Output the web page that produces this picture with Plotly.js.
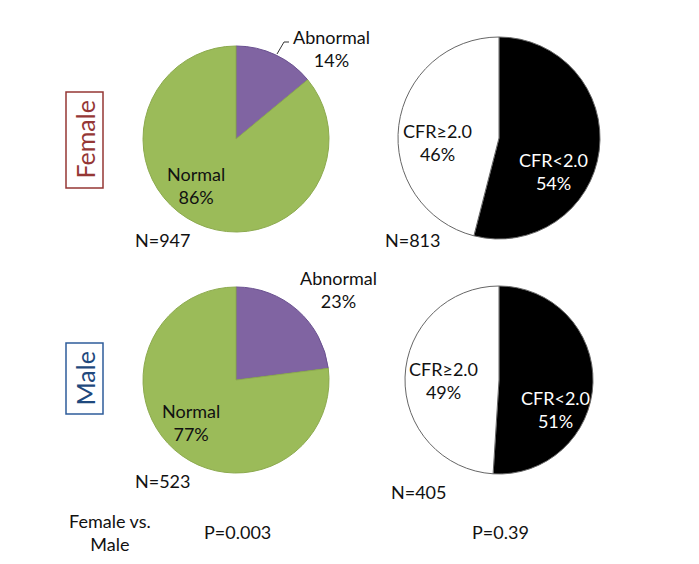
<!DOCTYPE html>
<html>
<head>
<meta charset="utf-8">
<script src="https://cdn.plot.ly/plotly-3.0.1.min.js"></script>
<style>html,body{margin:0;padding:0;background:#fff;}#chart{width:699px;height:564px;}</style>
</head>
<body>
<div id="chart"></div>
<script>
// ---- data ----
const groups = ["Female", "Male"];
const perfusionLabels = ["Abnormal", "Normal"];
const femalePerfusion = [14, 86];
const malePerfusion = [23, 77];
const cfrLabels = ["CFR<2.0", "CFR≥2.0"];
const femaleCfr = [54, 46];
const maleCfr = [51, 49];
const sampleSizes = ["N=947", "N=813", "N=523", "N=405"];
const pValues = ["P=0.003", "P=0.39"];
const comparisonLabel = "Female vs.<br>Male";

// ---- layout helpers ----
const W = 699, H = 564;
const px = x => x / W;
const py = y => 1 - y / H;
function dom(cx, cy, r) {
  return { x: [px(cx - r), px(cx + r)], y: [py(cy + r), py(cy - r)] };
}
const FONT = "Lato, 'Liberation Sans', sans-serif";
const FS = 18;
const green = "#9BBB59", purple = "#8064A2";

function piePerf(vals, d) {
  return {
    type: "pie", labels: perfusionLabels, values: vals, sort: false,
    direction: "clockwise", rotation: 0, textinfo: "none", hoverinfo: "label+percent",
    marker: { colors: [purple, green], line: { color: ["#6a5190", "#8caa4e"], width: 1 } },
    domain: d, showlegend: false
  };
}
function pieCfr(vals, d) {
  return {
    type: "pie", labels: cfrLabels, values: vals, sort: false,
    direction: "clockwise", rotation: 0, textinfo: "none", hoverinfo: "label+percent",
    marker: { colors: ["#000000", "#ffffff"], line: { color: "#666666", width: 1 } },
    domain: d, showlegend: false
  };
}

const data = [
  piePerf(femalePerfusion, dom(236, 139, 93)),
  pieCfr(femaleCfr, dom(499, 138, 101)),
  piePerf(malePerfusion, dom(236, 380, 93)),
  pieCfr(maleCfr, dom(499, 380, 94))
];

function ann(text, x, y, opts) {
  return Object.assign({
    text: text, x: px(x), y: py(y), xref: "paper", yref: "paper",
    showarrow: false, xanchor: "center", yanchor: "middle",
    font: { family: FONT, size: FS, color: "#111111" }
  }, opts || {});
}
const pct = (lab, v) => lab + "<br>" + v + "%";
const white = { font: { family: FONT, size: FS, color: "#ffffff" } };

const annotations = [
  ann(pct(perfusionLabels[0], femalePerfusion[0]), 331, 48),
  ann(pct(perfusionLabels[1], femalePerfusion[1]), 196, 185),
  ann(pct(cfrLabels[1], femaleCfr[1]), 437, 142),
  ann(pct(cfrLabels[0], femaleCfr[0]), 553, 171, white),
  ann(pct(perfusionLabels[0], malePerfusion[0]), 338, 289),
  ann(pct(perfusionLabels[1], malePerfusion[1]), 191, 422),
  ann(pct(cfrLabels[1], maleCfr[1]), 443, 381),
  ann(pct(cfrLabels[0], maleCfr[0]), 555, 409, white),
  ann(sampleSizes[0], 133, 240, { xanchor: "left" }),
  ann(sampleSizes[1], 383, 240, { xanchor: "left" }),
  ann(sampleSizes[2], 133, 481, { xanchor: "left" }),
  ann(sampleSizes[3], 389, 492, { xanchor: "left" }),
  ann(comparisonLabel, 110, 532),
  ann(pValues[0], 237, 532),
  ann(pValues[1], 500, 532),
  ann(groups[0], 84.5, 140, { textangle: -90, font: { family: FONT, size: 25, color: "#953735" } }),
  ann(groups[1], 84.5, 379, { textangle: -90, font: { family: FONT, size: 25, color: "#1F497D" } })
];

const shapes = [
  { type: "rect", xref: "paper", yref: "paper", x0: px(66), x1: px(103), y0: py(188), y1: py(92),
    line: { color: "#953735", width: 1.5 } },
  { type: "rect", xref: "paper", yref: "paper", x0: px(66), x1: px(103), y0: py(414), y1: py(343),
    line: { color: "#2E5C9A", width: 1.5 } },
  { type: "line", xref: "paper", yref: "paper", x0: px(277), y0: py(54), x1: px(284), y1: py(42),
    line: { color: "#333", width: 1 } },
  { type: "line", xref: "paper", yref: "paper", x0: px(284), y0: py(42), x1: px(289), y1: py(42),
    line: { color: "#333", width: 1 } }
];

const layout = {
  width: W, height: H, margin: { l: 0, r: 0, t: 0, b: 0 },
  paper_bgcolor: "#ffffff", plot_bgcolor: "#ffffff",
  showlegend: false, annotations: annotations, shapes: shapes,
  font: { family: FONT }
};
Plotly.newPlot("chart", data, layout, { displayModeBar: false, staticPlot: true });
</script>
</body>
</html>
